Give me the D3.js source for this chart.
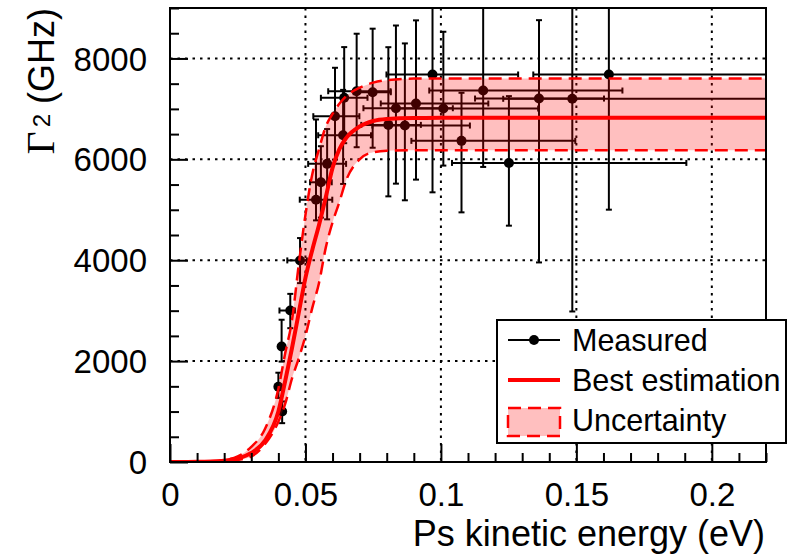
<!DOCTYPE html>
<html>
<head>
<meta charset="utf-8">
<script src="https://cdn.jsdelivr.net/npm/d3@7"></script>
<style>
  body { margin: 0; background: #fff; }
  text { font-family: "Liberation Sans", Arial, sans-serif; }
</style>
</head>
<body>
<script>
// measured points: energy (eV), Gamma_2 (GHz) and asymmetric errors
var xVals = [0.0400, 0.0414, 0.0412, 0.0444, 0.0480, 0.0539, 0.0557, 0.0580, 0.0609, 0.0639, 0.0643, 0.0689, 0.0748,
             0.0806, 0.0834, 0.0867, 0.0908, 0.0969, 0.1009, 0.1076, 0.1156, 0.1251, 0.1362, 0.1485, 0.1620];
var yVals = [1490, 1000, 2290, 3003, 3996, 5200, 5545, 5910, 6855, 6477, 7220, 7350, 7330,
             6683, 7013, 6670, 7107, 7682, 7007, 6366, 7364, 5929, 7205, 7200, 7682];
var exLow = [0.0008, 0.0008, 0.0008, 0.0040, 0.0047, 0.0060, 0.0040, 0.0070, 0.0080, 0.0092, 0.0086, 0.0105, 0.0070,
             0.0100, 0.0120, 0.0120, 0.0130, 0.0170, 0.0180, 0.0185, 0.0199, 0.0210, 0.0236, 0.0255, 0.0279];
var exHigh = [0.0008, 0.0008, 0.0008, 0.0017, 0.0025, 0.0060, 0.0040, 0.0070, 0.0090, 0.0103, 0.0086, 0.0125, 0.0067,
              0.0120, 0.0210, 0.0240, 0.0267, 0.0316, 0.0350, 0.0420, 0.0514, 0.0655, 0.0240, 0.0800, 0.0800];
var eyLow = [220, 230, 300, 350, 450, 410, 700, 1100, 860, 965, 900, 1110, 1100,
             1417, 1495, 1482, 1509, 2336, 1131, 1417, 1515, 1244, 3249, 4216, 2680];
var eyHigh = [280, 200, 530, 330, 443, 1590, 715, 690, 960, 900, 1005, 1140, 1260,
              1540, 1640, 1628, 1648, 1500, 1522, 953, 2000, 1324, 1554, 2000, 2000];

// best estimation and uncertainty band
var curveX = [0, 0.01, 0.02, 0.025, 0.03, 0.035, 0.04, 0.0425, 0.045, 0.0475, 0.05, 0.0525, 0.055, 0.0575,
              0.06, 0.0625, 0.065, 0.07, 0.075, 0.08, 0.09, 0.1, 0.22];
var bestY = [0, 3, 25, 70, 180, 420, 1000, 1600, 2250, 2950, 3650, 4200, 4700, 5250,
             5830, 6200, 6420, 6650, 6760, 6800, 6820, 6822, 6822];
var upperY = [0, 5, 40, 110, 300, 650, 1450, 2150, 2800, 3900, 4900, 5700, 6200, 6650,
              6900, 7100, 7250, 7420, 7520, 7570, 7600, 7603, 7603];
var lowerY = [0, 1, 12, 40, 110, 350, 800, 1150, 1650, 2050, 2500, 3050, 3550, 4250,
              4750, 5150, 5580, 6000, 6140, 6170, 6179, 6179, 6179];

var xTicks = [0, 0.05, 0.1, 0.15, 0.2];
var yTicks = [0, 2000, 4000, 6000, 8000];
var legendLabels = ["Measured", "Best estimation", "Uncertainty"];

var W = 787, H = 559;
var mLeft = 170, mTop = 8, pw = 596, ph = 454;

var svg = d3.select("body").append("svg")
    .attr("width", W)
    .attr("height", H);

var x = d3.scaleLinear().domain([0, 0.22]).range([mLeft, mLeft + pw]);
var y = d3.scaleLinear().domain([0, 9000]).range([mTop + ph, mTop]);

svg.append("clipPath").attr("id", "frame")
    .append("rect").attr("x", mLeft).attr("y", mTop).attr("width", pw).attr("height", ph);

// dotted grid
var grid = svg.append("g").attr("stroke", "#000").attr("stroke-width", 2).attr("stroke-dasharray", "2.5,5");
grid.selectAll(".gx").data(xTicks.slice(1)).enter().append("line")
    .attr("x1", d => x(d)).attr("x2", d => x(d)).attr("y1", mTop).attr("y2", mTop + ph);
grid.selectAll(".gy").data(yTicks.slice(1)).enter().append("line")
    .attr("x1", mLeft).attr("x2", mLeft + pw).attr("y1", d => y(d)).attr("y2", d => y(d));

var plot = svg.append("g").attr("clip-path", "url(#frame)");

// error bars and points
var pts = d3.range(xVals.length);
var eb = plot.append("g").attr("stroke", "#000").attr("stroke-width", 2);
pts.forEach(function (i) {
    var cx = x(xVals[i]), cy = y(yVals[i]);
    var x0 = x(xVals[i] - exLow[i]), x1 = x(xVals[i] + exHigh[i]);
    var y0 = y(yVals[i] - eyLow[i]), y1 = y(yVals[i] + eyHigh[i]);
    eb.append("line").attr("x1", x0).attr("x2", x1).attr("y1", cy).attr("y2", cy);
    eb.append("line").attr("x1", cx).attr("x2", cx).attr("y1", y0).attr("y2", y1);
    eb.append("line").attr("x1", x0).attr("x2", x0).attr("y1", cy - 3).attr("y2", cy + 3);
    eb.append("line").attr("x1", x1).attr("x2", x1).attr("y1", cy - 3).attr("y2", cy + 3);
    eb.append("line").attr("x1", cx - 3).attr("x2", cx + 3).attr("y1", y0).attr("y2", y0);
    eb.append("line").attr("x1", cx - 3).attr("x2", cx + 3).attr("y1", y1).attr("y2", y1);
});
plot.selectAll(".pt").data(pts).enter().append("circle")
    .attr("cx", i => x(xVals[i])).attr("cy", i => y(yVals[i])).attr("r", 5).attr("fill", "#000");

// uncertainty band (translucent, over the points)
var band = d3.area().curve(d3.curveMonotoneX)
    .x((d, i) => x(curveX[i])).y0((d, i) => y(lowerY[i])).y1((d, i) => y(upperY[i]));
plot.append("path").datum(curveX).attr("d", band).attr("fill", "#ff0000").attr("fill-opacity", 0.25);

var line = function (arr) {
    return d3.line().curve(d3.curveMonotoneX).x((d, i) => x(curveX[i])).y((d, i) => y(arr[i]))(curveX);
};
plot.append("path").attr("d", line(upperY)).attr("fill", "none").attr("stroke", "#ff0000")
    .attr("stroke-width", 2.5).attr("stroke-dasharray", "13,7");
plot.append("path").attr("d", line(lowerY)).attr("fill", "none").attr("stroke", "#ff0000")
    .attr("stroke-width", 2.5).attr("stroke-dasharray", "13,7");
plot.append("path").attr("d", line(bestY)).attr("fill", "none").attr("stroke", "#ff0000")
    .attr("stroke-width", 4);

// frame
svg.append("rect").attr("x", mLeft).attr("y", mTop).attr("width", pw).attr("height", ph)
    .attr("fill", "none").attr("stroke", "#000").attr("stroke-width", 2);

// axes with ticks pointing inward
var xAxis = svg.append("g").attr("transform", "translate(0," + (mTop + ph) + ")")
    .call(d3.axisBottom(x).tickValues(d3.range(0, 0.2201, 0.01)).tickSize(0).tickFormat(""));
xAxis.select(".domain").remove();
xAxis.selectAll(".tick line")
    .attr("y2", d => (Math.abs(d / 0.05 - Math.round(d / 0.05)) < 1e-6 ? -18 : -9))
    .attr("stroke", "#000").attr("stroke-width", 2);
xAxis.selectAll(".tick").filter(d => xTicks.some(t => Math.abs(t - d) < 1e-9))
    .append("text").attr("y", 44).attr("fill", "#000").attr("text-anchor", "middle")
    .style("font-size", "33px").text(d => d3.format("~g")(d));

var yAxis = svg.append("g").attr("transform", "translate(" + mLeft + ",0)")
    .call(d3.axisLeft(y).tickValues(d3.range(0, 9001, 500)).tickSize(0).tickFormat(""));
yAxis.select(".domain").remove();
yAxis.selectAll(".tick line")
    .attr("x2", d => (d % 2000 === 0 ? 18 : 9))
    .attr("stroke", "#000").attr("stroke-width", 2);
yAxis.selectAll(".tick").filter(d => yTicks.indexOf(d) >= 0)
    .append("text").attr("x", -23).attr("dy", "0.35em").attr("fill", "#000").attr("text-anchor", "end")
    .style("font-size", "33px").text(d => d);

// axis titles
svg.append("text").attr("x", 765).attr("y", 546).attr("text-anchor", "end")
    .style("font-size", "36px").text("Ps kinetic energy (eV)");

var yt = svg.append("text").attr("transform", "translate(54,8) rotate(-90)").attr("text-anchor", "end");
yt.append("tspan").style("font-family", "'Liberation Serif', 'Times New Roman', serif").style("font-size", "40px").text("\u0393");
yt.append("tspan").attr("dx", 4).attr("dy", -4).style("font-size", "24px").text("2");
yt.append("tspan").attr("dy", 4).style("font-size", "36px").text(" (GHz)");

// legend
var lg = svg.append("g");
lg.append("rect").attr("x", 497).attr("y", 320).attr("width", 289).attr("height", 123)
    .attr("fill", "#fff").attr("stroke", "#000").attr("stroke-width", 2);
var rows = [340, 380, 420];
lg.append("line").attr("x1", 508).attr("x2", 560).attr("y1", rows[0]).attr("y2", rows[0])
    .attr("stroke", "#000").attr("stroke-width", 2);
lg.append("circle").attr("cx", 534).attr("cy", rows[0]).attr("r", 5).attr("fill", "#000");
lg.append("line").attr("x1", 508).attr("x2", 560).attr("y1", rows[1]).attr("y2", rows[1])
    .attr("stroke", "#ff0000").attr("stroke-width", 4);
lg.append("rect").attr("x", 508).attr("y", 408).attr("width", 52).attr("height", 28)
    .attr("fill", "#ff0000").attr("fill-opacity", 0.25)
    .attr("stroke", "#ff0000").attr("stroke-width", 2.5).attr("stroke-dasharray", "13,7");
lg.selectAll(".lt").data(legendLabels).enter().append("text")
    .attr("x", 572).attr("y", (d, i) => rows[i]).attr("dy", "0.36em")
    .style("font-size", "30.5px").text(d => d);
</script>
</body>
</html>
